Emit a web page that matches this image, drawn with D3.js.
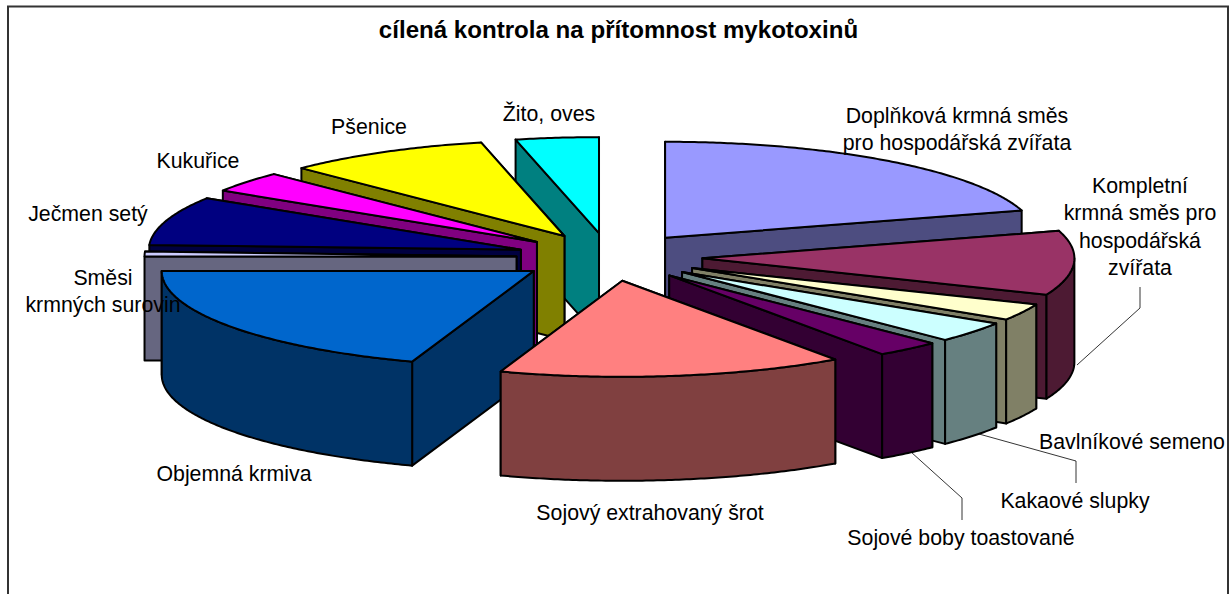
<!DOCTYPE html>
<html><head><meta charset="utf-8">
<script src="https://cdn.jsdelivr.net/npm/d3@7"></script>
<style>html,body{margin:0;padding:0;background:#fff}svg{display:block}text{font-family:"Liberation Sans",Arial,sans-serif;fill:#000}</style>
</head><body><div id="c"></div>
<script>
const categories = ["Doplňková krmná směs pro hospodářská zvířata","Kompletní krmná směs pro hospodářská zvířata","Bavlníkové semeno","Kakaové slupky","Sojové boby toastované","Sojový extrahovaný šrot","Objemná krmiva","Směsi krmných surovin","Ječmen setý","Kukuřice","Pšenice","Žito, oves"];
const values = [20.4,10.8,2.8,3.5,2.8,15.0,19.7,0.8,8.2,3.5,8.9,3.6];
const colors = ["#9999FF","#993366","#FFFFCC","#CCFFFF","#660066","#FF8080","#0066CC","#CCCCFF","#000080","#FF00FF","#FFFF00","#00FFFF"];
const labelLines = [["Doplňková krmná směs","pro hospodářská zvířata"],["Kompletní","krmná směs pro","hospodářská","zvířata"],["Bavlníkové semeno"],["Kakaové slupky"],["Sojové boby toastované"],["Sojový extrahovaný šrot"],["Objemná krmiva"],["Směsi","krmných surovin"],["Ječmen setý"],["Kukuřice"],["Pšenice"],["Žito, oves"]];
const labelAnchors = [[957,116],[1140,186],[1132,442],[1075,501],[961,538],[650,513],[234,474],[103,278],[88,214],[198,161],[369,127],[549,114]];
const leaders = [null,[[1140,287],[1140,308],[1077,365]],null,[[979,434],[1076,461],[1076,483]],[[911,452],[962,498],[962,520]],null,null,null,null,null,null,null];
const title = "cílená kontrola na přítomnost mykotoxinů";

const W=1230,H=594, cx=609.5, cy=257, rx=372, ry=96, depth=104, explode=0.25;
const svg=d3.select("#c").append("svg").attr("width",W).attr("height",H);
svg.append("rect").attr("x",8).attr("y",6.5).attr("width",1220).attr("height",H+10).attr("fill","#fff").attr("stroke","#333").attr("stroke-width",2);
svg.append("text").attr("x",618.5).attr("y",38).attr("text-anchor","middle").attr("font-weight","bold").attr("font-size",24.1).text(title);

const pie=d3.pie().sort(null).value(d=>d)(values);
const px=a=>rx*Math.sin(a), py=a=>-ry*Math.cos(a);
const line=d3.line();
function arcPts(a0,a1,ox,oy,dz){const n=Math.max(2,Math.ceil((a1-a0)/0.01));return d3.range(n+1).map(i=>{const a=a0+(a1-a0)*i/n;return [ox+px(a),oy+py(a)+dz];});}
const slices=pie.map((p,i)=>{const m=(p.startAngle+p.endAngle)/2;return {...p,i,m,ox:cx+explode*px(m),oy:cy+explode*py(m)};}).sort((a,b)=>a.oy-b.oy);
const g=svg.selectAll("g.slice").data(slices).join("g").attr("class","slice");
const sty=(s,fill)=>s.attr("fill",fill).attr("stroke","#000").attr("stroke-width",2).attr("stroke-linejoin","round");
g.each(function(d){
  const sel=d3.select(this), base=d3.color(colors[d.i]);
  const dark=d3.rgb(base.r/2,base.g/2,base.b/2).formatHex();
  const o=[d.ox,d.oy];
  const wall=a=>{const q=[d.ox+px(a),d.oy+py(a)];return [o,q,[q[0],q[1]+depth],[o[0],o[1]+depth]];};
  [d.startAngle,d.endAngle].sort((a,b)=>py(a)-py(b)).forEach(a=>{sty(sel.append("path").attr("d",line(wall(a))+"Z"),dark);});
  const a0=Math.max(d.startAngle,Math.PI/2),a1=Math.min(d.endAngle,3*Math.PI/2);
  if(a1>a0){const t=arcPts(a0,a1,d.ox,d.oy,0),b=arcPts(a0,a1,d.ox,d.oy,depth).reverse();sty(sel.append("path").attr("d",line(t.concat(b))+"Z"),dark);}
  sty(sel.append("path").attr("d",line([o].concat(arcPts(d.startAngle,d.endAngle,d.ox,d.oy,0)))+"Z"),colors[d.i]);
});
leaders.forEach(l=>{if(l)svg.append("path").attr("d",line(l)).attr("fill","none").attr("stroke","#000").attr("stroke-width",0.8);});
labelLines.forEach((ls,i)=>{ls.forEach((t,j)=>{svg.append("text").attr("x",labelAnchors[i][0]).attr("y",labelAnchors[i][1]+j*27.3+7).attr("text-anchor","middle").attr("font-size",21.3).text(t);});});
</script></body></html>
